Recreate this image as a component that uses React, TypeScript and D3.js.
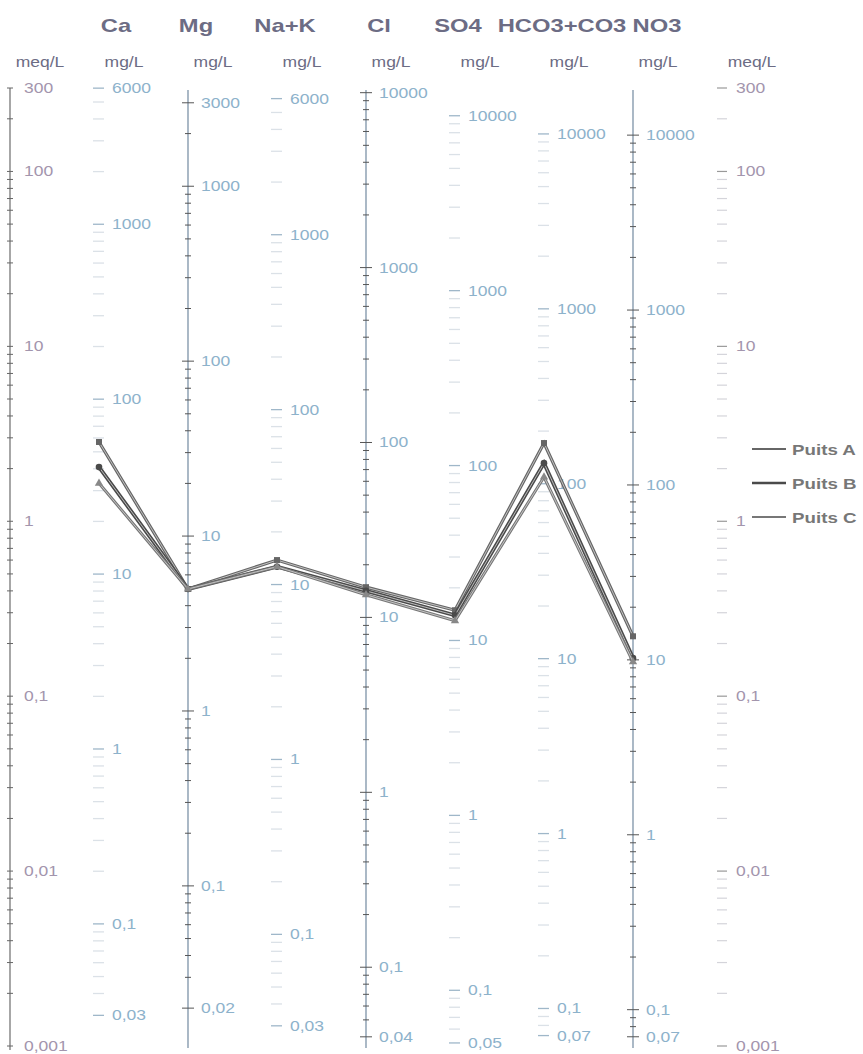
import React from "react";
import * as d3 from "d3";

// columns of the Schoeller diagram
const columns = ["meqL", "Ca", "Mg", "Na+K", "Cl", "SO4", "HCO3+CO3", "NO3", "meqR"];
const ions = ["Ca", "Mg", "Na+K", "Cl", "SO4", "HCO3+CO3", "NO3"];
const eqWeights = [20.04, 12.15, 23.0, 35.45, 48.03, 61.02, 62.0];
const topLabels = [6000, 3000, 6000, 10000, 10000, 10000, 10000];
const bottomLabels = [0.03, 0.02, 0.03, 0.04, 0.05, 0.07, 0.07];
const withLine = [false, true, false, true, false, false, true];
const meqLabels = [300, 100, 10, 1, 0.1, 0.01, 0.001];

// wells, meq/L
const wells = ["Puits A", "Puits B", "Puits C"];
const puitsA = [2.84, 0.41, 0.6, 0.42, 0.31, 2.8, 0.22];
const puitsB = [2.04, 0.41, 0.55, 0.4, 0.29, 2.15, 0.165];
const puitsC = [1.65, 0.41, 0.55, 0.38, 0.27, 1.79, 0.157];

const W = 863;
const H = 1054;
const SX = 1.25; // scanned text is wider than it is tall

// header nudges so the names sit like in the scan
const headShift: Record<string, number> = {
  Ca: 17, Mg: 8, "Na+K": 8, Cl: 13, SO4: 3, "HCO3+CO3": 18, NO3: 24,
};

const fmt = (v: number) => String(v).replace(".", ",");

function logTicks(lo: number, hi: number) {
  const out: number[] = [];
  for (let k = Math.floor(Math.log10(lo)); k <= Math.ceil(Math.log10(hi)); k++) {
    for (let m = 1; m <= 9; m++) {
      const v = +(m * Math.pow(10, k)).toPrecision(3);
      if (v >= lo * 0.999 && v <= hi * 1.001) out.push(v);
    }
  }
  return out;
}

function Txt(props: { x: number; y: number; size: number; fill: string; bold?: boolean; anchor?: string; children: any }) {
  const { x, y, size, fill, bold, anchor, children } = props;
  return (
    <text
      transform={`translate(${x},${y}) scale(${SX},1)`}
      fontFamily="'Liberation Sans', Arial, sans-serif"
      fontSize={size}
      fontWeight={bold ? "bold" : "normal"}
      fill={fill}
      textAnchor={anchor || "start"}
    >
      {children}
    </text>
  );
}

export default function App() {
  const y = d3.scaleLog().domain([300, 0.001]).range([88, 1046]);
  const x = d3.scalePoint<string>().domain(columns).range([10, 722]);

  const series = [puitsA, puitsB, puitsC];
  const strokes = ["#666", "#4a4a4a", "#777"];
  const widths = [2, 2.6, 1.8];

  const line = d3
    .line<number>()
    .x((_, i) => x(ions[i])!)
    .y((d) => y(d));

  const headColor = "#6c6c84";
  const mgColor = "#8db2cb";
  const meqColor = "#a395ad";

  return (
    <svg width={W} height={H} style={{ position: "absolute", left: 0, top: 0, background: "#fff" }}>
      {/* meq/L axes left and right */}
      {["meqL", "meqR"].map((c) => {
        const cx = x(c)!;
        const hasLine = c === "meqL";
        return (
          <g key={c}>
            <Txt x={cx + 30} y={67} size={14} fill={headColor} anchor="middle">meq/L</Txt>
            {hasLine && <line x1={cx} x2={cx} y1={y(300)} y2={y(0.001) + 4} stroke="#777" strokeWidth={1.3} />}
            {logTicks(0.001, 300).map((v) => {
              const major = meqLabels.includes(v);
              return hasLine ? (
                <line key={v} x1={cx - 3} x2={cx + 3} y1={y(v)} y2={y(v)} stroke="#666" strokeWidth={1} />
              ) : (
                <line key={v} x1={cx - 5} x2={cx + 5} y1={y(v)} y2={y(v)} stroke={major ? "#999" : "#d4d4da"} strokeWidth={1.2} />
              );
            })}
            {meqLabels.map((v) => (
              <Txt key={v} x={cx + 14} y={y(v) + 5} size={14} fill={meqColor}>{fmt(v)}</Txt>
            ))}
          </g>
        );
      })}

      {/* mg/L axes of each ion */}
      {ions.map((ion, i) => {
        const cx = x(ion)!;
        const w = eqWeights[i];
        const ym = (v: number) => y(v / w);
        const lo = bottomLabels[i];
        const hi = topLabels[i];
        const labels = [hi, 1000, 100, 10, 1, 0.1, lo].filter((v, k, a) => a.indexOf(v) === k && v <= hi && v >= lo);
        return (
          <g key={ion}>
            <Txt x={cx + headShift[ion]} y={32} size={19} bold fill={headColor} anchor="middle">{ion}</Txt>
            <Txt x={cx + 25} y={67} size={14} fill={headColor} anchor="middle">mg/L</Txt>
            {withLine[i] && <line x1={cx} x2={cx} y1={90} y2={1048} stroke="#7d93a8" strokeWidth={1.3} />}
            {logTicks(lo, hi).map((v) => {
              const major = labels.includes(v);
              return withLine[i] ? (
                <line key={v} x1={cx - (major ? 6 : 3)} x2={cx + (major ? 6 : 3)} y1={ym(v)} y2={ym(v)} stroke="#555" strokeWidth={1} />
              ) : (
                <line key={v} x1={cx - 6} x2={cx + 5} y1={ym(v)} y2={ym(v)} stroke={major ? "#9fb7c9" : "#dbe1e7"} strokeWidth={1.3} />
              );
            })}
            {labels.map((v) => (
              <Txt key={v} x={cx + 13} y={ym(v) + 5} size={14} fill={mgColor}>{fmt(v)}</Txt>
            ))}
          </g>
        );
      })}

      {/* wells */}
      {series.map((s, k) => (
        <g key={wells[k]}>
          <path d={line(s) || ""} fill="none" stroke={strokes[k]} strokeWidth={widths[k] + 1.2} />
          <path d={line(s) || ""} fill="none" stroke="#d8d8d8" strokeWidth={0.8} />
          {s.map((v, i) => {
            const px = x(ions[i])!;
            const py = y(v);
            if (k === 0) return <rect key={i} x={px - 3} y={py - 3} width={6} height={6} fill="#666" />;
            if (k === 1) return <circle key={i} cx={px} cy={py} r={3.3} fill="#4a4a4a" />;
            return <path key={i} d={d3.symbol(d3.symbolTriangle, 30)() || ""} transform={`translate(${px},${py})`} fill="#888" />;
          })}
        </g>
      ))}

      {/* legend */}
      {wells.map((name, k) => {
        const ly = 449 + k * 34;
        return (
          <g key={name}>
            <line x1={752} x2={786} y1={ly} y2={ly} stroke={strokes[k]} strokeWidth={widths[k]} />
            <Txt x={792} y={ly + 6} size={15} bold fill="#777">{name}</Txt>
          </g>
        );
      })}
    </svg>
  );
}
